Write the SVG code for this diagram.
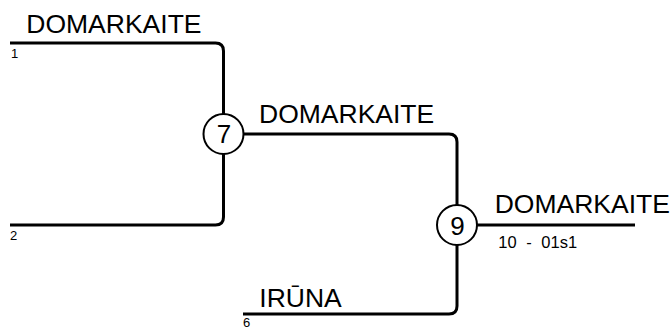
<svg xmlns="http://www.w3.org/2000/svg" width="672" height="329" viewBox="0 0 672 329">
<style>
.ln{fill:none;stroke:#000;stroke-width:3;stroke-linejoin:round;stroke-linecap:butt}
.nd circle{fill:#fff;stroke:#000;stroke-width:2}
.lbl{font-family:"Liberation Sans",Arial,sans-serif;font-size:26.5px;fill:#000}
.num{font-family:"Liberation Sans",Arial,sans-serif;font-size:26px;fill:#000;text-anchor:middle}
.sm{font-family:"Liberation Sans",Arial,sans-serif;font-size:13px;fill:#000}
.sub{font-family:"Liberation Sans",Arial,sans-serif;font-size:16.5px;fill:#000}
</style>
<rect width="672" height="329" fill="#fff"/>
<g id="connectors">
<path class="ln" d="M10 43 H215.5 Q223.5 43 223.5 51 V114"/>
<path class="ln" d="M10 225 H215.5 Q223.5 225 223.5 217 V154"/>
<path class="ln" d="M243.5 134 H449 Q457 134 457 142 V205"/>
<path class="ln" d="M243 314 H449 Q457 314 457 306 V245"/>
<path class="ln" d="M477 225 H635"/>
</g>
<g id="labels">
<text class="lbl" x="26.3" y="33">DOMARKAITE</text>
<text class="sm" x="11" y="57.5">1</text>
<text class="sm" x="10" y="239.5">2</text>
<text class="lbl" x="259" y="123">DOMARKAITE</text>
<text class="lbl" x="494.7" y="213">DOMARKAITE</text>
<text class="sub" x="498.3" y="248" word-spacing="5">10 - 01s1</text>
<text class="lbl" x="259.3" y="307">IRŪNA</text>
<text class="sm" x="243" y="327">6</text>
</g>
<g id="node7" class="nd">
<circle cx="223.5" cy="134" r="20"/>
<text class="num" x="224" y="143.3">7</text>
</g>
<g id="node9" class="nd">
<circle cx="457" cy="225" r="20"/>
<text class="num" x="457.5" y="234.5">9</text>
</g>
</svg>
